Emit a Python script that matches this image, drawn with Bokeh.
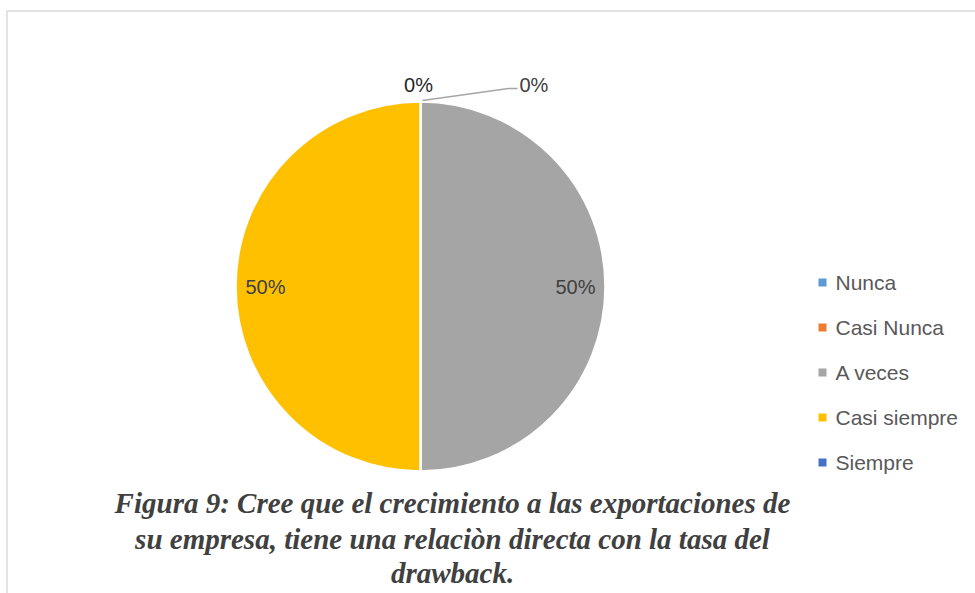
import math
from bokeh.plotting import figure
from bokeh.models import Range1d
from bokeh.core.properties import value
from bokeh.embed import file_html
from bokeh.resources import INLINE

# ---- data ----
categories = ["Nunca", "Casi Nunca", "A veces", "Casi siempre", "Siempre"]
values = [0, 0, 5, 5, 0]
colors = ["#5B9BD5", "#ED7D31", "#A5A5A5", "#FFC000", "#4472C4"]
caption_lines = [
    "Figura 9: Cree que el crecimiento a las exportaciones de",
    "su empresa, tiene una relaciòn directa con la tasa del",
    "drawback.",
]

W, H = 975, 593
p = figure(width=W, height=H, output_backend="svg", toolbar_location=None,
           x_range=Range1d(0, W), y_range=Range1d(0, H),
           min_border=0, outline_line_color=None)
p.axis.visible = False
p.grid.visible = False
p.background_fill_color = "white"

def sy(y):  # screen y -> data y
    return H - y

# chart area border (left/top visible; right/bottom beyond window)
p.quad(left=[6.5], right=[1200], top=[sy(10.5)], bottom=[-200],
       fill_color=None, line_color="#d9d9d9", line_width=1.5)

cx, cy, R = 420, sy(286), 185
total = sum(values)
start = math.pi / 2
starts, ends, mids = [], [], []
for v in values:
    frac = v / total
    a0 = start
    a1 = start - frac * 2 * math.pi
    starts.append(a0); ends.append(a1); mids.append((a0 + a1) / 2)
    start = a1

ws = [i for i, v in enumerate(values) if v > 0]
p.wedge(x=[cx] * len(ws), y=[cy] * len(ws), radius=R,
        start_angle=[starts[i] for i in ws], end_angle=[ends[i] for i in ws],
        direction="clock", fill_color=[colors[i] for i in ws],
        line_color="white", line_width=2.5)

label_font = value("Liberation Sans")
# inside labels for non-zero slices
lr = 155
for i in ws:
    pct = round(values[i] / total * 100)
    p.text(x=[cx + lr * math.cos(mids[i])], y=[cy + lr * math.sin(mids[i])],
           text=[f"{pct}%"], text_align="center", text_baseline="middle",
           text_font=label_font, text_font_size="20px", text_color="#404040")

# zero labels
# Nunca: directly above the top
i = 0
p.text(x=[cx - 2], y=[sy(84)], text=[f"{round(values[i]/total*100)}%"],
       text_align="center", text_baseline="middle", text_font=label_font,
       text_font_size="20px", text_color="#262626")
# Casi Nunca: with leader line
i = 1
p.line(x=[cx + 2, cx + 88, cx + 97], y=[sy(100), sy(88), sy(88)],
       line_color="#A6A6A6", line_width=1.5)
p.text(x=[cx + 99], y=[sy(84)], text=[f"{round(values[i]/total*100)}%"],
       text_align="left", text_baseline="middle", text_font=label_font,
       text_font_size="20px", text_color="#404040")

# legend
lx, ly0, dy = 822, sy(282), -45
p.scatter(x=[lx] * len(categories), y=[ly0 + k * dy for k in range(len(categories))],
          marker="square", size=8, fill_color=colors, line_color=None)
p.text(x=[lx + 13] * len(categories), y=[ly0 + k * dy for k in range(len(categories))],
       text=categories, text_align="left", text_baseline="middle",
       text_font=label_font, text_font_size="21px", text_color="#595959")

# caption
cap_y = [sy(502), sy(538), sy(572)]
p.text(x=[452] * 3, y=cap_y, text=caption_lines, text_align="center",
       text_baseline="middle", text_font=value("Liberation Serif"),
       text_font_style="bold italic", text_font_size="29px", text_color="#404040")

open("out.html", "w").write(file_html(p, INLINE))
